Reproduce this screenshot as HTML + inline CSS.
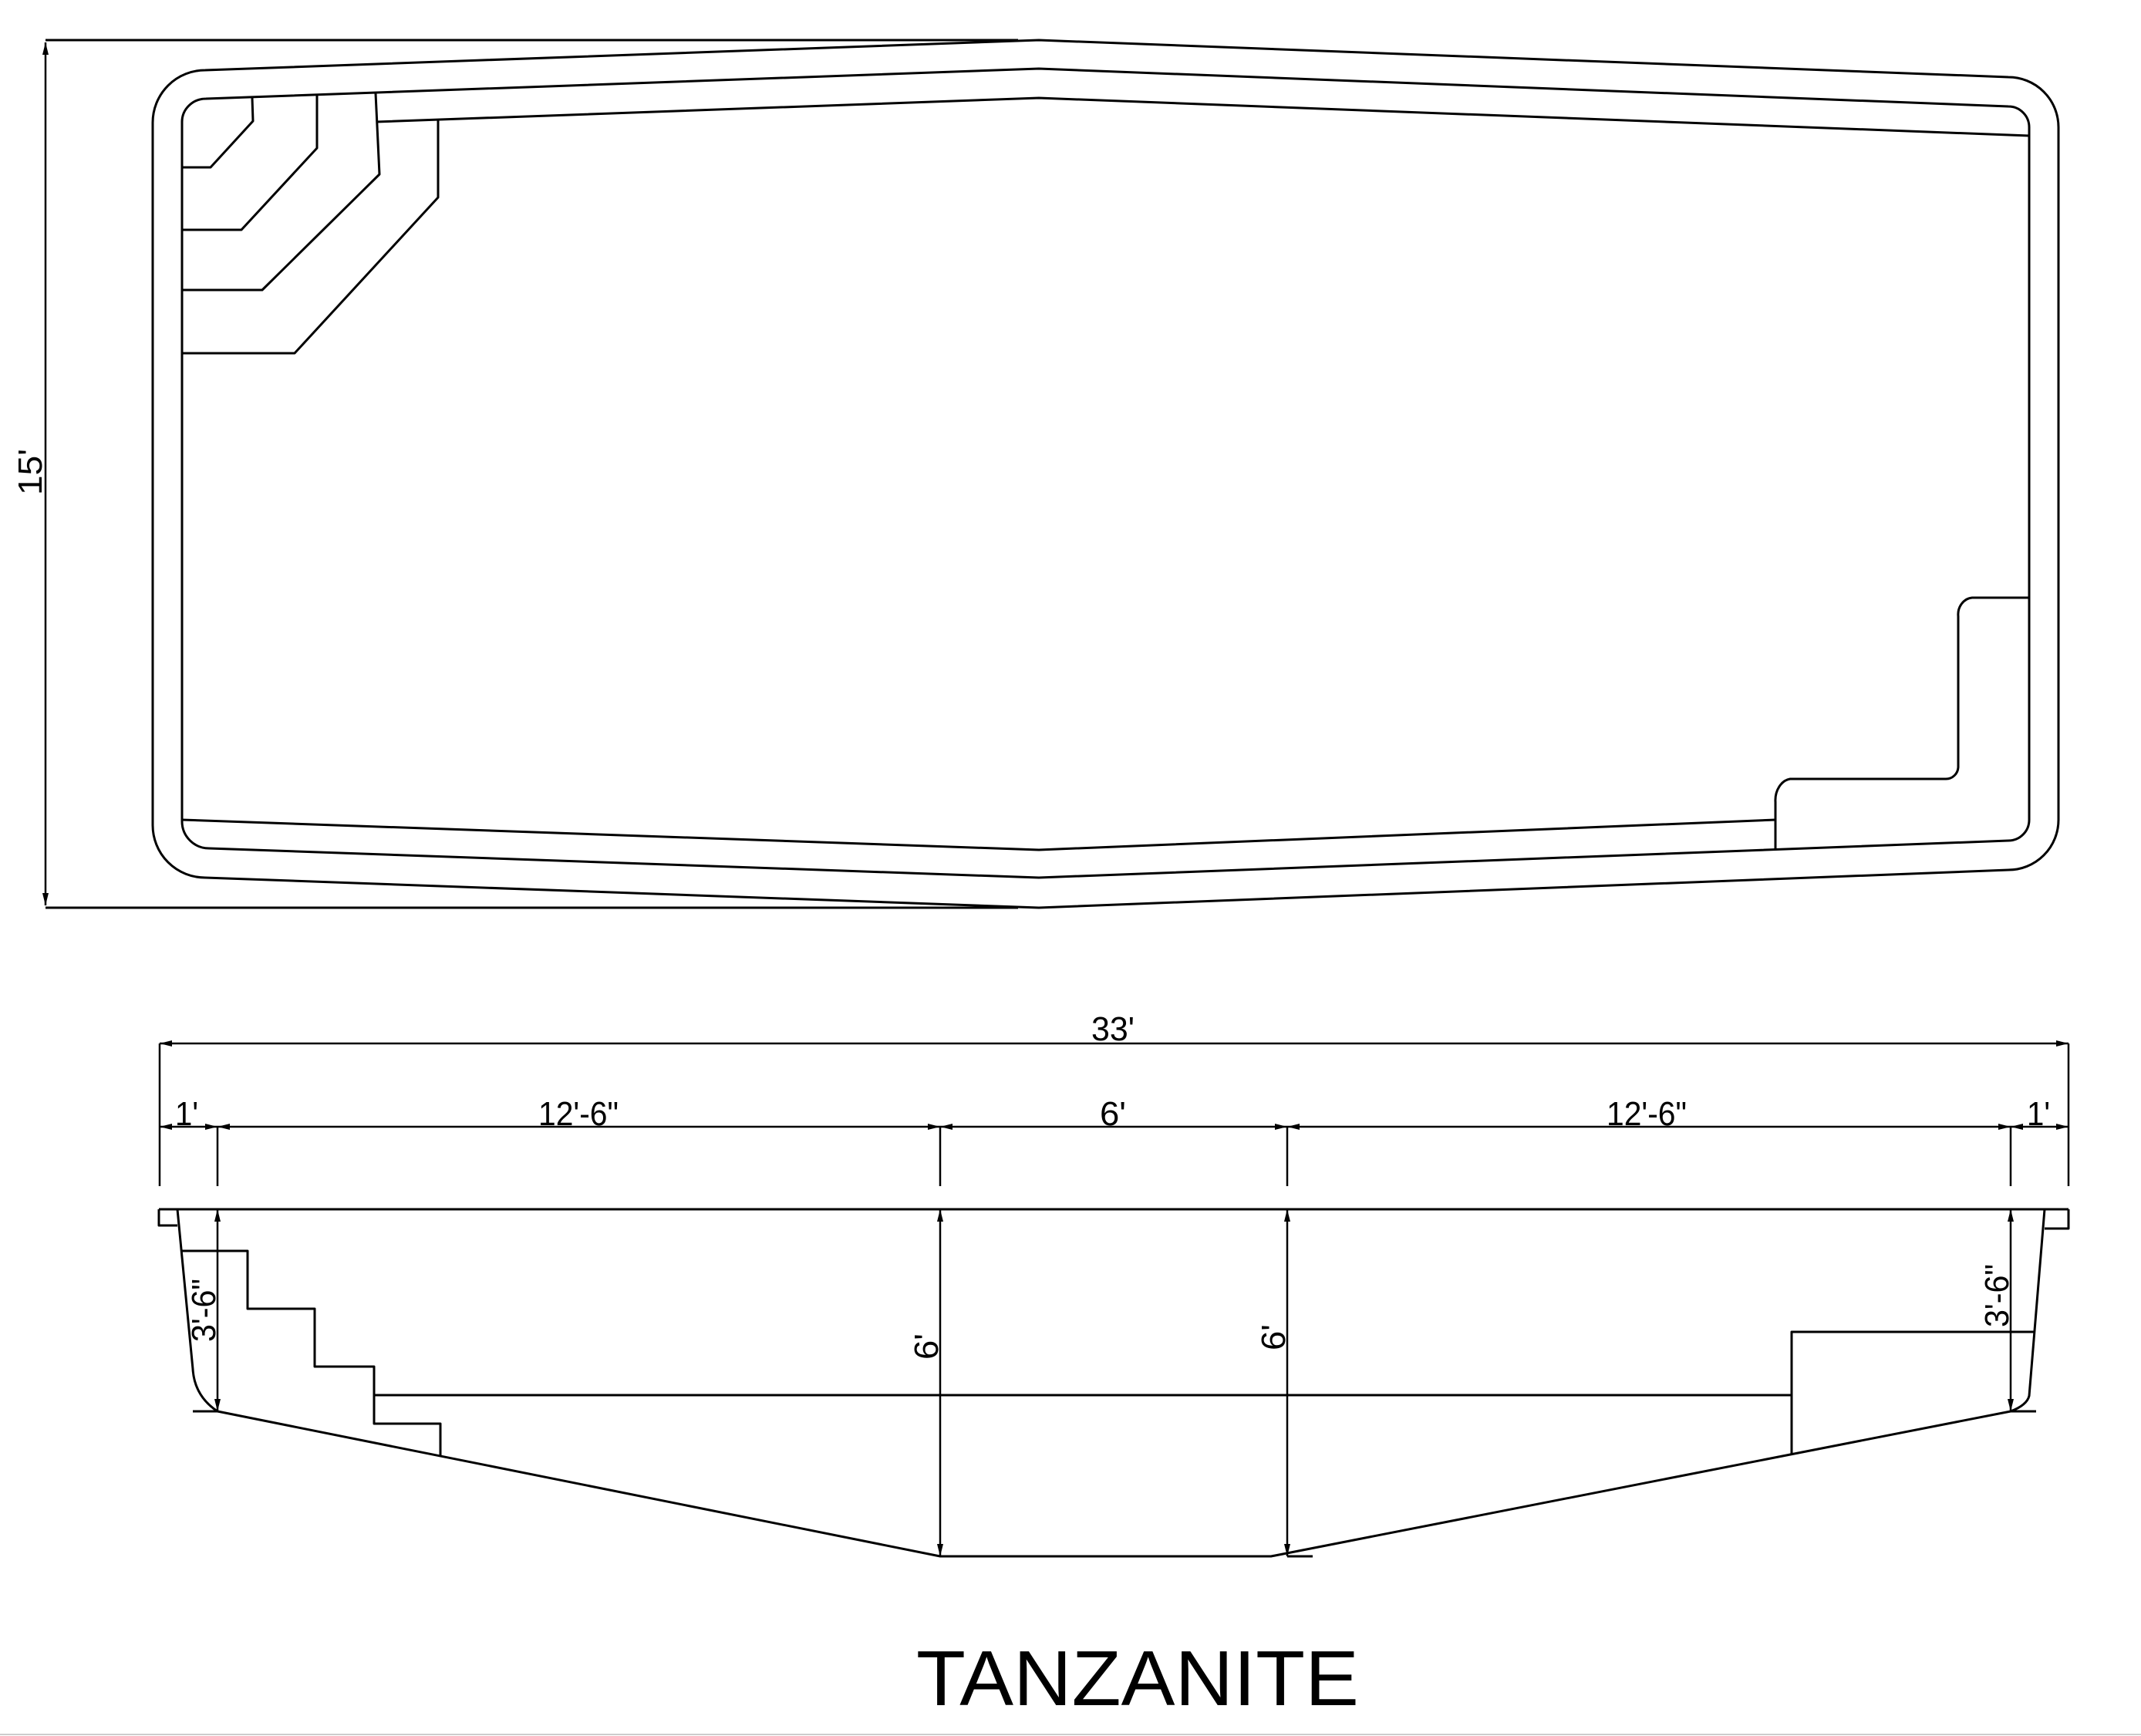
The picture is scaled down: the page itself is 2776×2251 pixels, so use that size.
<!DOCTYPE html>
<html><head><meta charset="utf-8"><style>
html,body{margin:0;padding:0;background:#fff;}
svg{display:block;}
text{font-family:"Liberation Sans",sans-serif;fill:#000;}
</style></head><body>
<svg width="2776" height="2251" viewBox="0 0 2776 2251" xmlns="http://www.w3.org/2000/svg">
<defs>
<marker id="a" viewBox="0 0 16 8" refX="16" refY="4" markerWidth="16" markerHeight="8" markerUnits="userSpaceOnUse" orient="auto-start-reverse"><path d="M0,0 L16,4 L0,8 z" fill="#000"/></marker>
</defs>
<g fill="none" stroke="#000" stroke-width="3" stroke-linejoin="round">
<!-- PLAN VIEW -->
<line x1="59" y1="52" x2="1320" y2="52"/>
<line x1="59" y1="1177" x2="1320" y2="1177"/>
<line x1="59" y1="55" x2="59" y2="1174" marker-start="url(#a)" marker-end="url(#a)" stroke-width="2.5"/>
<!-- outer L3 right + L2 left -->
<path d="M266,91 L1347,52 L2604,100 A65,65 0 0 1 2669,165 L2669,1063 A65,65 0 0 1 2604,1128 L1347,1177 L266,1138 A68,68 0 0 1 198,1070 L198,159 A68,68 0 0 1 266,91 Z"/>
<!-- middle L2 right + L1 left -->
<path d="M267,128 L1347,89 L2604,138 A27,27 0 0 1 2631,165 L2631,1063 A27,27 0 0 1 2604,1090 L1347,1138 L271,1100 A35,35 0 0 1 236,1065 L236,158 A31,30 0 0 1 267,128 Z"/>
<!-- pool inner line top -->
<polyline points="488,158 1347,127 2631,176"/>
<!-- pool floor line bottom -->
<polyline points="236,1063 1347,1102 2302,1063"/>
<!-- left steps -->
<polyline points="327,127 328,157 273,217 236,217"/>
<polyline points="411,124 411,192 313,298 236,298"/>
<polyline points="487,121 492,226 340,376 236,376"/>
<polyline points="568,155 568,256 382,458 236,458"/>
<!-- right bench -->
<path d="M2631,775 L2557,775 A20,22 0 0 0 2539,799 L2539,995 A16,16 0 0 1 2523,1010 L2321,1010 A22,28 0 0 0 2302,1040 L2302,1102"/>

<!-- SECTION VIEW -->
<line x1="207" y1="1353" x2="2682" y2="1353" marker-start="url(#a)" marker-end="url(#a)" stroke-width="2.5"/>
<line x1="207" y1="1353" x2="207" y2="1538" stroke-width="2.5"/>
<line x1="2682" y1="1353" x2="2682" y2="1538" stroke-width="2.5"/>
<line x1="282" y1="1461" x2="282" y2="1538" stroke-width="2.5"/>
<line x1="1219" y1="1461" x2="1219" y2="1538" stroke-width="2.5"/>
<line x1="1669" y1="1461" x2="1669" y2="1538" stroke-width="2.5"/>
<line x1="2607" y1="1461" x2="2607" y2="1538" stroke-width="2.5"/>
<g stroke-width="2.5">
<line x1="207" y1="1461" x2="282" y2="1461" marker-start="url(#a)" marker-end="url(#a)"/>
<line x1="282" y1="1461" x2="1219" y2="1461" marker-start="url(#a)" marker-end="url(#a)"/>
<line x1="1219" y1="1461" x2="1669" y2="1461" marker-start="url(#a)" marker-end="url(#a)"/>
<line x1="1669" y1="1461" x2="2607" y2="1461" marker-start="url(#a)" marker-end="url(#a)"/>
<line x1="2607" y1="1461" x2="2682" y2="1461" marker-start="url(#a)" marker-end="url(#a)"/>
</g>
<!-- deck -->
<line x1="206" y1="1568" x2="2682" y2="1568"/>
<polyline points="206,1568 206,1589 230,1589"/>
<polyline points="2682,1568 2682,1593 2651,1593"/>
<!-- left wall & floor -->
<path d="M230,1568 L250,1775 Q252,1810 282,1830 L1219,2018 L1648,2018 L2607,1830 Q2628,1822 2631,1810 L2651,1568"/>
<line x1="250" y1="1830" x2="282" y2="1830"/>
<line x1="1669" y1="2018" x2="1702" y2="2018"/>
<line x1="2607" y1="1830" x2="2640" y2="1830"/>
<!-- steps -->
<polyline points="234,1622 321,1622 321,1697 408,1697 408,1772 485,1772 485,1846 571,1846 571,1888"/>
<line x1="485" y1="1809" x2="2323" y2="1809"/>
<polyline points="2323,1886 2323,1727 2638,1727"/>
<!-- vertical dims -->
<g stroke-width="2.5">
<line x1="282" y1="1568" x2="282" y2="1830" marker-start="url(#a)" marker-end="url(#a)"/>
<line x1="1219" y1="1568" x2="1219" y2="2018" marker-start="url(#a)" marker-end="url(#a)"/>
<line x1="1669" y1="1568" x2="1669" y2="2018" marker-start="url(#a)" marker-end="url(#a)"/>
<line x1="2607" y1="1568" x2="2607" y2="1830" marker-start="url(#a)" marker-end="url(#a)"/>
</g>
</g>
<line x1="0" y1="2249" x2="2776" y2="2249" stroke="#ccc" stroke-width="2"/>

<!-- LABELS -->
<text transform="translate(54,612) rotate(-90)" font-size="44" text-anchor="middle" textLength="60" lengthAdjust="spacingAndGlyphs">15'</text>
<text x="1443" y="1349" font-size="44" text-anchor="middle" textLength="56" lengthAdjust="spacingAndGlyphs">33'</text>
<text x="242" y="1459" font-size="44" text-anchor="middle" textLength="30" lengthAdjust="spacingAndGlyphs">1'</text>
<text x="750" y="1459" font-size="44" text-anchor="middle" textLength="104" lengthAdjust="spacingAndGlyphs">12'-6"</text>
<text x="1443" y="1459" font-size="44" text-anchor="middle" textLength="34" lengthAdjust="spacingAndGlyphs">6'</text>
<text x="2135" y="1459" font-size="44" text-anchor="middle" textLength="104" lengthAdjust="spacingAndGlyphs">12'-6"</text>
<text x="2643" y="1459" font-size="44" text-anchor="middle" textLength="30" lengthAdjust="spacingAndGlyphs">1'</text>
<text transform="translate(279,1699) rotate(-90)" font-size="44" text-anchor="middle" textLength="82" lengthAdjust="spacingAndGlyphs">3'-6"</text>
<text transform="translate(1216,1746) rotate(-90)" font-size="44" text-anchor="middle" textLength="34" lengthAdjust="spacingAndGlyphs">6'</text>
<text transform="translate(1666,1734) rotate(-90)" font-size="44" text-anchor="middle" textLength="34" lengthAdjust="spacingAndGlyphs">6'</text>
<text transform="translate(2604,1680) rotate(-90)" font-size="44" text-anchor="middle" textLength="82" lengthAdjust="spacingAndGlyphs">3'-6"</text>
<text x="1475" y="2211" font-size="101" text-anchor="middle" textLength="574" lengthAdjust="spacingAndGlyphs">TANZANITE</text>
</svg>
</body></html>
